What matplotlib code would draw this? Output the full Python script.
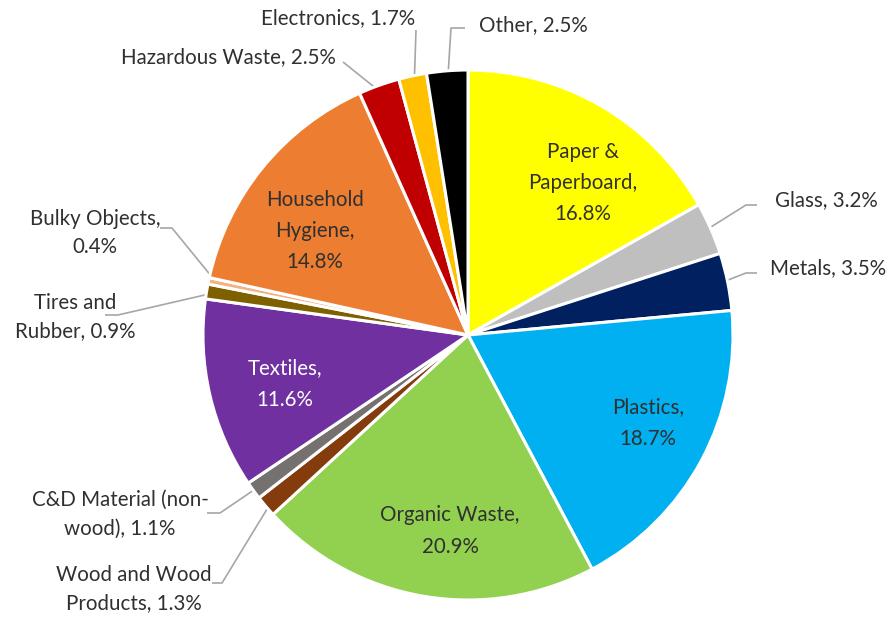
import numpy as np
import matplotlib
matplotlib.use("Agg")
import matplotlib.pyplot as plt

plt.rcParams["font.family"] = ["Lato", "DejaVu Sans"]

# Waste composition, clockwise from 12 o'clock
categories = ["Paper &\nPaperboard", "Glass", "Metals", "Plastics", "Organic Waste",
              "Wood and Wood\nProducts", "C&D Material (non-\nwood)", "Textiles",
              "Tires and\nRubber", "Bulky Objects,\n", "Household\nHygiene",
              "Hazardous Waste", "Electronics", "Other"]
shares = [16.8, 3.2, 3.5, 18.7, 20.9, 1.3, 1.1, 11.6, 0.9, 0.4, 14.8, 2.5, 1.7, 2.5]
colors = ["#FFFF00", "#BFBFBF", "#002060", "#00B0F0", "#92D050", "#843C0C", "#767171",
          "#7030A0", "#7F6000", "#F4B183", "#ED7D31", "#C00000", "#FFC000", "#000000"]

W, H = 894, 619
cx, cy, R = 468, 284, 265

fig = plt.figure(figsize=(W / 100, H / 100), dpi=100)
ax = fig.add_axes([0, 0, 1, 1])

wedges, _ = ax.pie(shares, colors=colors, startangle=90, counterclock=False,
                   center=(cx, cy), radius=R, frame=True,
                   wedgeprops=dict(edgecolor="white", linewidth=2.2))
ax.set_xlim(0, W)
ax.set_ylim(0, H)
ax.set_aspect("equal")
ax.axis("off")

txt = "#303030"
fs = 14.8


def label_text(i):
    name = categories[i]
    if name.endswith(",\n"):
        return name + "%.1f%%" % shares[i]
    if "\n" in name and i in (5, 6, 8):
        return name + ", %.1f%%" % shares[i]
    if "\n" in name:
        return name + ",\n%.1f%%" % shares[i]
    if i in (3, 4, 7):
        return name + ",\n%.1f%%" % shares[i]
    return name + ", %.1f%%" % shares[i]


def mid_angle(i):
    w = wedges[i]
    return np.deg2rad((w.theta1 + w.theta2) / 2)


# labels drawn inside the big slices: (index, x, y, color)
inside = [(0, 583, 436, txt), (10, 315, 388, txt), (7, 285, 235, "white"),
          (4, 450, 88, txt), (3, 648, 196, txt)]
for i, x, y, c in inside:
    ax.text(x, y, label_text(i), ha="center", va="center", fontsize=fs,
            color=c, linespacing=1.7)

# outside labels with leader lines: (index, text x, text y, ha, elbow, line end)
outside = [
    (1, 826, 419, "center", (746, 414), (757, 414)),
    (2, 828, 351, "center", (746, 346), (757, 346)),
    (11, 228, 562, "center", (343, 557), (343, 557)),
    (12, 338, 601, "center", (416, 589), (416, 589)),
    (13, 533, 594, "center", (451, 591), (465, 591)),
    (9, 95, 386, "center", (172, 391), (160, 391)),
    (8, 75, 302, "center", (118, 304), (105, 304)),
    (6, 120, 105, "center", (220, 106), (207, 106)),
    (5, 134, 30, "center", (222, 36), (212, 36)),
]
for i, x, y, ha, elbow, end in outside:
    a = mid_angle(i)
    r0 = R * 0.97
    p0 = (cx + r0 * np.cos(a), cy + r0 * np.sin(a))
    ax.plot([p0[0], elbow[0], end[0]], [p0[1], elbow[1], end[1]],
            color="#A6A6A6", lw=1.2, zorder=0.5, solid_capstyle="butt")
    ax.text(x, y, label_text(i), ha=ha, va="center", fontsize=fs,
            color=txt, linespacing=1.55)

fig.savefig("out.png", dpi=100, facecolor="white")
